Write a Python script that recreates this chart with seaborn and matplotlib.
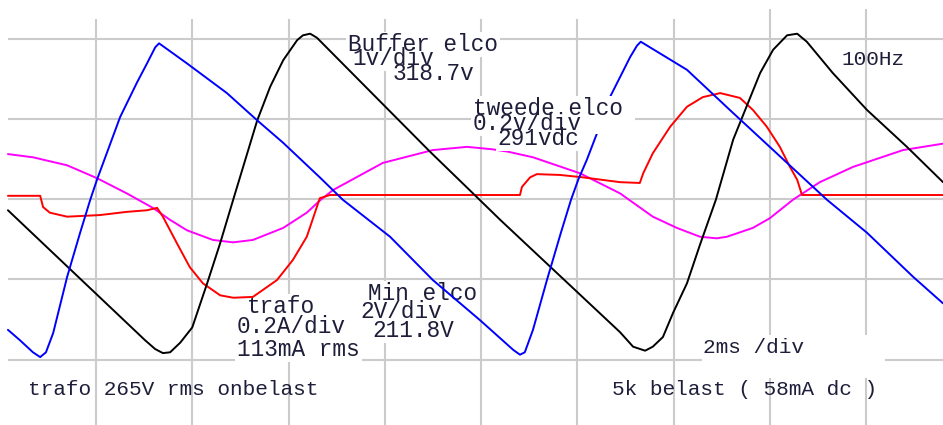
import matplotlib
matplotlib.use("Agg")
import matplotlib.pyplot as plt
from matplotlib.patches import Rectangle
import numpy as np
import pandas as pd
import seaborn as sns

# Time in ms (2 ms/div), amplitude in screen divisions (0 = centre line)
buffer_t = [-1.83, 1.02, 1.23, 1.39, 1.54, 1.75, 2.00, 2.31, 2.58, 2.85, 3.35, 3.62,
            3.89, 4.18, 4.30, 4.45, 4.59, 6.94, 7.92, 8.40, 10.89, 11.16, 11.41,
            11.57, 11.78, 11.99, 12.28, 12.55, 12.88, 13.24, 13.53, 13.80, 14.07,
            14.36, 14.57, 14.77, 15.31, 16.02, 16.85, 17.60]
buffer_v = [-0.14, -1.76, -1.87, -1.92, -1.91, -1.79, -1.60, -1.05, -0.55, -0.01, 0.98, 1.40,
            1.73, 1.98, 2.04, 2.06, 2.01, 0.59, 0.02, -0.26, -1.66, -1.84, -1.89,
            -1.84, -1.72, -1.42, -1.05, -0.57, -0.01, 0.74, 1.17, 1.57, 1.86,
            2.04, 2.06, 1.96, 1.57, 1.11, 0.65, 0.21]

min_t = [-1.83, -1.58, -1.31, -1.16, -1.10, -1.04, -0.89, -0.60, -0.33, -0.12, 0.02,
         0.50, 0.85, 1.06, 1.23, 1.31, 1.89, 2.72, 3.35, 3.89, 4.65, 5.13, 6.11,
         7.00, 7.98, 8.67, 8.81, 8.91, 9.08, 9.37, 9.66, 9.87, 10.02, 10.20, 10.43,
         10.68, 10.89, 11.10, 11.24, 11.32, 12.28, 13.17, 14.36, 15.19, 16.02,
         16.98, 17.60]
min_v = [-1.63, -1.76, -1.91, -1.97, -1.94, -1.91, -1.67, -0.97, -0.42, -0.01, 0.24,
         1.02, 1.45, 1.69, 1.89, 1.94, 1.69, 1.32, 0.98, 0.70, 0.27, -0.01, -0.47,
         -1.01, -1.51, -1.88, -1.94, -1.91, -1.63, -1.01, -0.42, -0.01, 0.24, 0.49, 0.85,
         1.27, 1.52, 1.77, 1.91, 1.96, 1.61, 1.11, 0.45, -0.01, -0.42,
         -0.97, -1.30]

tweede_t = [-1.83, -1.31, -0.60, 0.02, 0.64, 1.18, 1.54, 1.89, 2.43, 2.85, 3.26, 3.89,
            4.38, 4.65, 4.92, 5.96, 7.00, 7.71, 8.23, 8.56, 9.08, 10.06, 10.89, 11.57,
            12.07, 12.55, 12.90, 13.11, 13.65, 14.00, 14.48, 15.04, 15.73, 16.77, 17.60]
tweede_v = [0.56, 0.52, 0.42, 0.26, 0.07, -0.11, -0.26, -0.39, -0.51, -0.54, -0.51, -0.36,
            -0.17, -0.02, 0.11, 0.45, 0.61, 0.65, 0.62, 0.59, 0.52, 0.32, 0.07, -0.22,
            -0.36, -0.47, -0.49, -0.47, -0.36, -0.24, -0.01, 0.21, 0.40, 0.61, 0.69]

trafo_t = [-1.83, -1.16, -1.10, -0.96, -0.60, 0.08, 0.64, 1.06, 1.27, 1.39, 1.68, 1.95,
           2.22, 2.58, 2.85, 3.26, 3.76, 4.09, 4.38, 4.51, 4.65, 4.86, 8.81, 8.85,
           9.02, 9.16, 9.64, 10.12, 10.89, 11.30, 11.37, 11.57, 11.93, 12.28, 12.61,
           12.97, 13.38, 13.65, 13.94, 14.21, 14.42, 14.57, 14.67, 17.60]
trafo_v = [0.04, 0.04, -0.10, -0.17, -0.22, -0.20, -0.16, -0.14, -0.11, -0.22, -0.55, -0.85,
           -1.05, -1.20, -1.23, -1.22, -1.01, -0.76, -0.47, -0.24, 0.01, 0.05, 0.05, 0.15,
           0.27, 0.31, 0.30, 0.27, 0.21, 0.20, 0.32, 0.57, 0.90, 1.15, 1.27,
           1.32, 1.26, 1.11, 0.90, 0.65, 0.40, 0.24, 0.05, 0.05]

trace_names = ["tweede elco", "trafo", "Buffer elco", "Min elco"]
trace_colors = ["#ff00ff", "#ff0000", "#000000", "#0000ff"]

grid_t = np.arange(0, 17, 2)
grid_top = [2.243] * 7 + [2.368] * 2
grid_v = [-2, -1, 0, 1, 2]

frames = []
for name, t, v in zip(trace_names,
                      [tweede_t, trafo_t, buffer_t, min_t],
                      [tweede_v, trafo_v, buffer_v, min_v]):
    frames.append(pd.DataFrame({"t": t, "v": v, "trace": name}))
df = pd.concat(frames, ignore_index=True)

sns.set_style("white")
plt.rcParams["font.family"] = ["Liberation Mono", "DejaVu Sans Mono"]

fig = plt.figure(figsize=(9.43, 4.25), dpi=100)
ax = fig.add_axes([0, 0, 1, 1])
x_lo, x_hi = -1.995, 17.6
y_lo, y_hi = -2.816, 2.480
ax.set_xlim(x_lo, x_hi)
ax.set_ylim(y_lo, y_hi)

grid_kw = dict(color="#cbcbcb", linewidth=1.5, zorder=1)
ax.vlines(grid_t, y_lo, grid_top, **grid_kw)
ax.hlines(grid_v, -1.83, x_hi, **grid_kw)

sns.lineplot(data=df, x="t", y="v", hue="trace", hue_order=trace_names,
             palette=trace_colors, sort=False, estimator=None, legend=False,
             linewidth=1.4, ax=ax, zorder=3)

ink = "#1e1e3a"
big = 16.4
small = 15.2

backed = []  # (text artist, zorder of its white backing)
for s, x, y in [("Buffer elco", 5.24, 1.844), ("1v/div", 5.32, 1.67),
                ("318.7v", 6.17, 1.48), ("trafo", 3.14, -1.42),
                ("0.2A/div", 2.93, -1.67), ("113mA rms", 2.93, -1.96),
                ("Min elco", 5.65, -1.26), ("2V/div", 5.49, -1.48),
                ("211.8V", 5.74, -1.72)]:
    txt = ax.text(x, y, s, fontsize=big, color=ink, ha="left", va="baseline",
                  zorder=2.5)
    backed.append((txt, 2))

# second capacitor block sits above the traces
ax.add_patch(Rectangle((7.79, 0.81), 11.20 - 7.79, 1.246 - 0.81,
                       fc="white", ec="none", zorder=4))
for s, x, y in [("tweede elco", 7.83, 1.047), ("0.2v/div", 7.83, 0.86),
                ("291vdc", 8.35, 0.673)]:
    txt = ax.text(x, y, s, fontsize=big, color=ink, ha="left", va="baseline",
                  zorder=4.5)
    backed.append((txt, 4))

ax.add_patch(Rectangle((12.59, -2.23), 16.395 - 12.59, 0.535,
                       fc="white", ec="none", zorder=2))
ax.text(12.61, -1.92, "2ms /div", fontsize=small, color=ink, ha="left",
        va="baseline", zorder=2.5)
ax.text(15.50, 1.67, "100Hz", fontsize=small, color=ink, ha="left",
        va="baseline", zorder=2.5)
ax.text(-1.41, -2.44, "trafo 265V rms onbelast", fontsize=small, color=ink,
        ha="left", va="baseline", zorder=2.5)
ax.text(10.72, -2.44, "5k belast ( 58mA dc )", fontsize=small, color=ink,
        ha="left", va="baseline", zorder=2.5)

ax.axis("off")

# white backing behind each label, sized from the rendered text extent
fig.canvas.draw()
renderer = fig.canvas.get_renderer()
to_data = ax.transData.inverted()
for txt, z in backed:
    bb = txt.get_window_extent(renderer)
    (x0, y0), (x1, y1) = to_data.transform([[bb.x0 - 2, bb.y0 - 1],
                                            [bb.x1 + 2, bb.y1 + 1]])
    ax.add_patch(Rectangle((x0, y0), x1 - x0, y1 - y0, fc="white", ec="none",
                           zorder=z))

fig.savefig("out.png", dpi=100, facecolor="white")
